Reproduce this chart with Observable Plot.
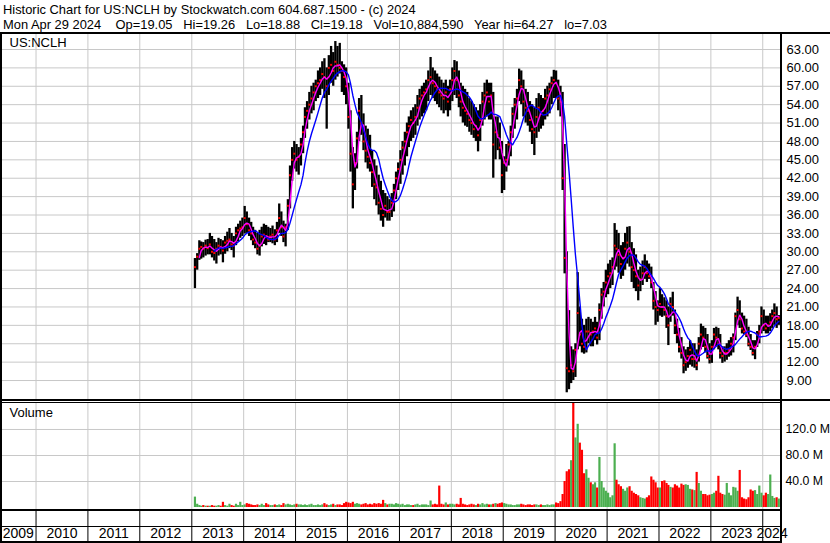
<!DOCTYPE html>
<html><head><meta charset="utf-8">
<script src="https://cdn.jsdelivr.net/npm/d3@7"></script>
<script src="https://cdn.jsdelivr.net/npm/@observablehq/plot@0.6"></script>
<style>
html,body{margin:0;padding:0;background:#fff;}
#chart{position:relative;width:830px;height:543px;overflow:hidden;background:#fff;font-family:Arial,"Liberation Sans",Helvetica,sans-serif;}
.hdr{position:absolute;left:3px;font-size:12.9px;line-height:15px;white-space:pre;color:#000;}
.ln{position:absolute;background:#000;}
</style></head><body>
<div id="chart"></div>
<script>
// ---------- header texts ----------
const headerLine1 = "Historic Chart for US:NCLH by Stockwatch.com 604.687.1500 - (c) 2024";
const headerLine2 = "Mon Apr 29 2024    Op=19.05   Hi=19.26   Lo=18.88   Cl=19.18   Vol=10,884,590   Year hi=64.27   lo=7.03";
const symbolLabel = "US:NCLH";
const volumeLabel = "Volume";

// ---------- axis ticks / labels ----------
const priceTicks = [9, 12, 15, 18, 21, 24, 27, 30, 33, 36, 39, 42, 45, 48, 51, 54, 57, 60, 63];
const volumeTicks = [40, 80, 120]; // millions
const yearLabels = ["2009","2010","2011","2012","2013","2014","2015","2016","2017","2018","2019","2020","2021","2022","2023","2024"];

// ---------- half-month bars: [high, low, close, volume (M)] ----------
// 2013 starts with the second half of January (IPO)
const bars2013 = [
[28.9,24.0,27.5,16],[29.7,27.0,29.2,5],[31.8,28.6,30.5,3],[31.6,28.8,30.8,2],[31.5,29.0,30.5,3],
[31.9,29.3,31.0,2],[32.0,29.5,30.6,2],[33.0,29.5,31.2,2],[32.5,29.0,30.0,3],[32.0,28.5,29.8,2],
[31.5,28.0,30.5,2],[32.2,29.3,31.0,3],[32.0,29.5,30.8,2],[31.8,28.2,30.2,8],[32.5,29.6,31.5,3],
[33.2,30.0,31.8,2],[33.8,30.5,32.0,5],[33.0,30.2,31.2,3],[32.5,29.0,31.0,2],[34.0,31.0,33.0,5],
[34.5,31.6,33.5,3],[35.0,32.2,33.8,8],[35.5,32.5,34.0,3]];
const bars2014 = [
[37.4,32.9,35.5,4],[36.5,33.0,34.5,6],[35.5,32.5,33.5,5],[34.8,31.8,33.0,4],[34.0,31.0,32.0,3],
[33.5,30.5,31.5,3],[33.0,29.5,30.5,4],[33.5,29.3,31.0,3],[34.0,30.8,32.5,5],[34.5,31.2,32.8,3],
[34.3,31.0,32.5,6],[34.0,31.5,32.0,4],[33.8,31.5,32.5,3],[34.2,31.3,32.8,3],[33.6,31.0,32.0,4],
[34.8,31.5,33.5,3],[37.8,33.0,35.5,4],[36.5,32.5,34.0,3],[35.0,31.5,32.5,6],[34.5,30.8,34.0,4],
[38.5,33.5,37.5,5],[44.0,37.0,42.5,4],[47.0,41.5,45.0,3],[48.0,43.5,46.0,4]];
const bars2015 = [
[47.5,43.0,45.0,5],[47.0,42.5,45.5,4],[48.5,44.0,47.5,4],[50.5,46.0,49.5,3],[53.5,48.5,52.0,4],
[54.5,50.0,53.0,3],[56.0,51.5,54.0,4],[57.0,52.5,55.0,5],[57.5,53.0,56.0,3],[58.0,54.5,57.0,3],
[59.5,55.0,57.5,4],[60.0,55.5,58.0,3],[61.0,56.5,59.0,4],[61.5,55.0,58.5,6],[60.0,50.0,57.0,4],
[62.0,55.5,60.0,3],[63.5,57.5,60.5,4],[62.5,57.0,59.5,5],[64.3,58.0,61.0,3],[63.5,58.5,60.5,4],
[64.0,59.0,60.0,4],[61.0,56.0,59.5,3],[60.5,55.5,58.5,6],[60.0,54.0,57.0,8]];
const bars2016 = [
[57.5,50.0,52.0,7],[53.0,43.0,46.0,6],[47.0,37.0,41.0,8],[46.0,40.0,44.5,5],[49.5,43.5,48.5,6],
[55.0,48.0,53.0,5],[55.5,49.0,51.0,4],[52.5,46.5,48.0,5],[50.5,44.5,46.5,6],[50.0,43.5,45.5,4],
[49.0,43.0,44.5,5],[46.5,40.5,43.0,4],[45.0,38.5,41.0,6],[44.0,37.5,40.5,5],[42.5,36.0,38.0,6],
[41.5,35.0,37.0,5],[40.0,34.0,36.0,11],[39.5,35.5,37.5,6],[39.0,35.0,36.5,4],[38.5,35.0,36.5,5],
[39.5,35.6,38.0,5],[41.0,36.5,40.0,4],[43.0,38.5,42.0,6],[44.5,40.0,43.5,5]];
const bars2017 = [
[46.5,41.0,45.0,4],[48.0,42.5,47.0,5],[49.5,44.0,48.0,3],[51.0,45.5,49.5,4],[52.0,47.0,50.5,4],
[53.0,48.0,51.5,3],[53.5,48.5,51.0,3],[54.0,49.0,52.0,4],[55.5,50.5,53.5,5],[56.5,51.5,55.0,3],
[57.0,52.0,55.5,4],[57.5,52.5,56.0,4],[58.0,53.0,56.5,4],[59.5,54.5,58.0,3],[61.7,55.5,58.5,10],
[60.0,55.0,57.5,4],[59.5,54.5,57.0,5],[59.0,54.0,56.5,4],[58.5,53.5,56.0,33],[58.0,53.0,55.5,5],
[57.5,52.5,55.0,4],[58.0,53.0,56.0,7],[57.0,52.0,54.5,4],[58.0,53.0,56.5,5]];
const bars2018 = [
[60.0,54.5,58.0,5],[61.2,55.5,59.5,4],[61.0,55.0,58.0,5],[59.5,53.5,55.5,4],[57.5,52.0,54.5,14],
[57.0,51.0,53.5,5],[56.5,50.5,53.0,4],[56.0,50.3,52.5,3],[55.0,49.5,51.5,4],[54.5,49.0,51.0,5],
[54.0,48.5,50.0,4],[53.5,48.0,50.5,3],[53.0,46.3,49.0,5],[54.0,48.0,51.5,4],[56.0,50.5,54.5,6],
[57.5,51.5,55.5,4],[58.0,52.0,56.0,5],[57.5,51.5,54.5,4],[57.5,51.5,55.5,4],[56.0,42.0,47.5,5],
[52.0,45.0,49.5,6],[52.0,46.5,49.0,5],[51.0,45.0,47.0,6],[48.0,39.5,42.5,7]];
const bars2019 = [
[45.5,40.0,44.5,6],[47.5,43.0,45.0,5],[48.0,44.0,47.5,4],[50.5,45.5,49.5,4],[53.5,48.5,52.5,3],
[55.0,50.0,54.0,3],[56.5,51.5,55.0,4],[59.8,54.5,58.0,4],[59.5,54.0,57.0,5],[58.0,52.0,54.5,4],
[56.5,51.0,53.5,3],[56.0,50.5,53.0,4],[54.5,49.5,51.5,4],[54.0,47.5,50.0,3],[53.5,45.7,49.5,4],
[55.0,48.5,52.0,4],[55.8,49.5,53.5,3],[55.5,50.0,52.5,4],[55.0,50.5,53.0,3],[56.5,51.5,55.0,3],
[57.0,52.0,55.5,4],[57.5,52.5,56.5,3],[58.5,54.0,57.5,4],[59.6,55.0,58.0,4]];
const bars2020 = [
[59.5,55.0,57.5,7],[58.0,53.0,55.0,6],[57.0,52.0,54.5,9],[56.0,40.0,42.0,20],[47.5,26.4,29.0,40],
[30.0,7.0,11.0,55],[20.4,7.5,10.5,58],[14.5,8.5,11.5,72],[14.0,9.0,10.5,160],[15.0,9.5,14.0,107],
[26.6,14.0,20.0,128],[21.0,14.5,16.5,99],[19.0,13.5,15.0,88],[18.0,13.3,14.5,52],[19.0,13.5,17.0,58],
[19.3,15.0,17.0,45],[19.0,14.5,16.5,38],[18.5,14.5,17.0,35],[19.3,15.5,17.5,38],[18.5,14.8,16.0,30],
[21.5,15.5,20.5,77],[24.0,19.0,23.0,40],[25.0,21.0,23.5,30],[27.0,22.5,25.0,25]];
const bars2021 = [
[28.0,23.0,26.0,22],[28.6,24.0,26.5,15],[29.0,24.5,27.5,18],[34.6,27.0,31.0,98],[33.5,27.5,30.5,42],
[33.0,26.5,29.5,35],[31.0,25.5,28.0,32],[31.5,26.0,29.0,28],[33.0,27.0,30.5,25],[34.0,28.0,31.5,30],
[34.1,27.5,30.0,32],[31.5,25.0,27.5,25],[30.5,24.0,27.0,22],[29.5,23.5,26.0,20],[27.0,22.0,24.5,18],
[27.5,23.5,25.5,15],[28.5,24.5,26.5,14],[29.5,25.5,27.5,13],[28.5,25.0,26.5,15],[28.0,25.5,26.0,18],
[27.5,24.0,25.0,47],[25.0,20.5,22.0,42],[23.5,18.0,21.0,38],[22.0,18.5,20.5,30]];
const bars2022 = [
[24.0,19.5,21.5,30],[23.0,19.3,21.0,40],[22.5,19.5,20.5,41],[22.0,17.5,19.5,37],[21.0,14.7,18.0,34],
[22.5,18.5,21.5,31],[23.4,19.5,21.0,30],[20.5,16.5,18.0,35],[19.0,15.0,16.5,33],[17.5,13.5,14.5,30],
[16.0,12.5,13.5,36],[14.5,10.1,11.5,34],[14.0,10.5,12.0,35],[14.4,11.0,13.0,34],[15.5,11.5,14.0,28],
[15.0,11.2,12.5,27],[15.0,11.0,12.5,26],[14.0,10.6,11.5,54],[16.0,12.0,15.0,37],[18.2,14.0,16.5,25],
[17.8,14.4,16.0,20],[17.5,13.5,14.5,20],[16.5,12.5,13.0,18],[15.0,11.7,12.5,19]];
const bars2023 = [
[15.5,11.8,14.5,20],[17.5,14.0,16.5,22],[17.7,14.5,16.0,25],[17.5,14.0,15.0,48],[16.5,12.5,13.5,22],
[14.5,11.8,13.0,20],[14.5,12.0,13.5,19],[15.0,12.3,13.5,37],[15.5,12.8,14.0,22],[16.0,13.0,15.0,18],
[16.6,13.5,16.0,31],[20.0,15.5,19.5,30],[22.6,18.0,20.5,25],[22.0,17.5,19.0,57],[20.0,16.6,17.5,15],
[19.5,16.5,17.0,13],[19.0,16.0,16.5,12],[17.7,14.5,15.0,15],[16.5,13.9,14.5,27],[15.5,13.0,13.5,25],
[15.5,12.4,14.5,26],[17.0,14.4,16.5,20],[18.0,15.0,17.0,33],[21.0,16.6,19.5,22]];
const bars2024 = [
[20.5,17.0,18.0,18],[19.5,16.6,17.5,22],[19.5,16.6,18.0,20],[19.9,17.0,18.5,50],[20.5,17.5,19.5,17],
[21.5,18.0,20.0,14],[21.0,17.5,19.0,15],[19.6,18.0,19.2,13]];

// ---------- build table ----------
const yearSets = [[2013,1,bars2013],[2014,0,bars2014],[2015,0,bars2015],[2016,0,bars2016],[2017,0,bars2017],
  [2018,0,bars2018],[2019,0,bars2019],[2020,0,bars2020],[2021,0,bars2021],[2022,0,bars2022],[2023,0,bars2023],[2024,0,bars2024]];
const rows = [];
for (const [yr, off, arr] of yearSets) {
  arr.forEach((b, j) => {
    const h = j + off;
    rows.push({date: new Date(yr, Math.floor(h / 2), h % 2 ? 23 : 8), high: b[0], low: b[1], close: b[2], volume: b[3]});
  });
}
rows.forEach((r, i) => { r.up = i === 0 ? true : r.close >= rows[i - 1].close; });

const xDomain = [new Date(2009, 3, 26), new Date(2024, 4, 12)];
const yearStarts = yearLabels.slice(1).map(y => new Date(+y, 0, 1));
const yearCells = yearLabels.map(y => {
  const a = Math.max(+new Date(+y, 0, 1), +xDomain[0]);
  const b = Math.min(+new Date(+y + 1, 0, 1), +xDomain[1]);
  return {label: y, mid: new Date((a + b) / 2)};
});

const W = 830, MR = 49;
const FONT = "Arial, 'Liberation Sans', Helvetica, sans-serif";
const GRID = "#c8c8c8";
const baseStyle = {fontFamily: FONT, fontSize: "13px", color: "#000", background: "transparent", overflow: "visible"};

const chart = document.getElementById("chart");
function place(el, top) { el.style.position = "absolute"; el.style.left = "0px"; el.style.top = top + "px"; chart.appendChild(el); }

// ---------- price panel ----------
const pricePlot = Plot.plot({
  width: W, height: 367, marginLeft: 0, marginRight: MR, marginTop: 0, marginBottom: 0,
  x: {type: "time", domain: xDomain, axis: null},
  y: {domain: [5.74, 65.61]},
  style: baseStyle,
  marks: [
    Plot.ruleY(priceTicks, {stroke: GRID, strokeWidth: 1}),
    Plot.ruleX(yearStarts, {stroke: GRID, strokeWidth: 1}),
    Plot.ruleX(rows, {x: "date", y1: "low", y2: "high", stroke: "#000", strokeWidth: 2.3}),
    Plot.dot(rows, {x: "date", y: "close", r: 1.1, symbol: "square", fill: "#ff0000", stroke: null}),
    Plot.lineY(rows, Plot.windowY({k: 3, anchor: "end", strict: true}, {x: "date", y: "close", stroke: "#ff00ff", strokeWidth: 1.4})),
    Plot.lineY(rows, Plot.windowY({k: 10, anchor: "end", strict: true}, {x: "date", y: "close", stroke: "#0000ff", strokeWidth: 1.4})),
    Plot.axisY(priceTicks, {anchor: "right", tickSize: 0, tickPadding: 5, tickFormat: d => d.toFixed(2), label: null}),
    Plot.text([symbolLabel], {text: d => d, frameAnchor: "top-left", dx: 9, dy: 4, textAnchor: "start", lineAnchor: "top", fontSize: 13, fill: "#000"})
  ]
});
place(pricePlot, 33);

// ---------- volume panel ----------
const volumePlot = Plot.plot({
  width: W, height: 108, marginLeft: 0, marginRight: MR, marginTop: 0, marginBottom: 0,
  x: {type: "time", domain: xDomain, axis: null},
  y: {domain: [-4.6, 161.5]},
  style: baseStyle,
  marks: [
    Plot.ruleY(volumeTicks, {stroke: GRID, strokeWidth: 1}),
    Plot.ruleX(yearStarts, {stroke: GRID, strokeWidth: 1}),
    Plot.ruleX(rows, {x: "date", y1: 0, y2: "volume", stroke: d => d.up ? "#4caf50" : "#ff0000", strokeWidth: 2.2}),
    Plot.axisY(volumeTicks, {anchor: "right", tickSize: 0, tickPadding: 4, tickFormat: d => d.toFixed(1) + " M", label: null, fontSize: 12.3}),
    Plot.text([volumeLabel], {text: d => d, frameAnchor: "top-left", dx: 9, dy: 5, textAnchor: "start", lineAnchor: "top", fontSize: 13, fill: "#000"})
  ]
});
place(volumePlot, 402);

// ---------- year axis ----------
const yearPlot = Plot.plot({
  width: W, height: 33, marginLeft: 0, marginRight: MR, marginTop: 0, marginBottom: 0,
  x: {type: "time", domain: xDomain, axis: null},
  style: baseStyle,
  marks: [
    Plot.ruleX(yearStarts, {stroke: "#000", strokeWidth: 1}),
    Plot.text(yearCells, {x: "mid", text: "label", frameAnchor: "bottom", lineAnchor: "middle", dy: -9.5, fontSize: 14, fill: "#000"})
  ]
});
place(yearPlot, 510);

// ---------- header ----------
const h1 = document.createElement("div"); h1.className = "hdr"; h1.style.top = "2px"; h1.textContent = headerLine1; chart.appendChild(h1);
const h2 = document.createElement("div"); h2.className = "hdr"; h2.style.top = "17px"; h2.textContent = headerLine2; chart.appendChild(h2);

// ---------- frame lines ----------
function ln(x, y, w, h) { const d = document.createElement("div"); d.className = "ln"; Object.assign(d.style, {left: x + "px", top: y + "px", width: w + "px", height: h + "px"}); chart.appendChild(d); }
ln(0, 32, 830, 2);
ln(0, 32, 2, 511);
ln(780, 32, 2, 511);
ln(0, 399, 830, 2);
ln(0, 402, 781, 1);
ln(0, 509, 781, 2);
ln(0, 526, 781, 1);
ln(0, 541, 781, 2);
</script>
</body></html>
